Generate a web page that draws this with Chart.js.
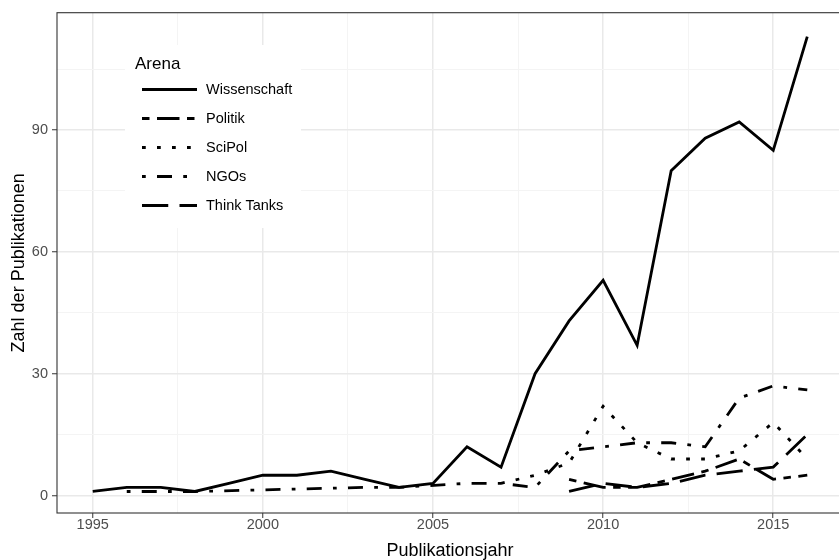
<!DOCTYPE html>
<html>
<head>
<meta charset="utf-8">
<script src="https://cdn.jsdelivr.net/npm/chart.js@4.4.0/dist/chart.umd.min.js"></script>
<style>
  html, body { margin: 0; padding: 0; background: #fff; overflow: hidden; }
  #wrap { width: 839px; height: 560px; overflow: hidden; }
</style>
</head>
<body>
<div id="wrap"><canvas id="chart" width="845" height="560"></canvas></div>
<script>
// Daten
var years = [1995, 1996, 1997, 1998, 1999, 2000, 2001, 2002, 2003, 2004, 2005,
             2006, 2007, 2008, 2009, 2010, 2011, 2012, 2013, 2014, 2015, 2016];
var wissenschaft = [1, 2, 2, 1, 3, 5, 5, 6, 4, 2, 3, 12, 7, 30, 43, 53, 37, 80, 88, 92, 85, 113];
var politik = [null, null, null, null, null, null, null, null, null, null, null,
               null, null, null, 4, 2, 2, 4, 6, 9, 4, 5];
var scipol = [null, null, null, null, null, null, null, null, null, null, null,
              null, 3, 5, 8, 22, 13, 9, 9, 11, 18, 9];
var ngos = [null, 1, 1, 1, null, null, null, null, 2, 2, null,
            3, 3, 2, 11, 12, 13, 13, 12, 24, 27, 26];
var thinkTanks = [null, null, null, null, null, null, null, null, null, null, null,
                  null, null, null, 1, 3, 2, 3, 5, 6, 7, 15];

var seriesNames = ['Wissenschaft', 'Politik', 'SciPol', 'NGOs', 'Think Tanks'];
var seriesValues = [wissenschaft, politik, scipol, ngos, thinkTanks];

var xTicks = [1995, 2000, 2005, 2010, 2015];
var yTicks = [0, 30, 60, 90];

// Linientypen wie in ggplot (solid, twodash, dotted, dotdash, longdash)
var u = 3.75;
var dashes = [
    [],
    [2 * u, 2 * u, 6 * u, 2 * u],
    [1 * u, 3 * u],
    [1 * u, 3 * u, 4 * u, 3 * u],
    [7 * u, 3 * u]
];
var lineW = 2.8;

function toPoints(vals) {
    var pts = [];
    for (var i = 0; i < years.length; i++) {
        if (vals[i] !== null) pts.push({ x: years[i], y: vals[i] });
    }
    return pts;
}

// Nebengitterlinien in der Mitte zwischen den Hauptticks
function withMinor(major, lo, hi) {
    var step = major[1] - major[0];
    var out = [];
    for (var v = major[0] - step / 2; v <= hi; v += step / 2) {
        if (v >= lo) out.push(v);
    }
    return out;
}

var xMin = 1995 - 0.05 * 21, xMax = 2016 + 0.05 * 21;
var yMin = -4.3, yMax = 118.9;

var tickFont = { family: 'Liberation Sans, Arial, sans-serif', size: 14.5 };
var titleFont = { family: 'Liberation Sans, Arial, sans-serif', size: 18, lineHeight: 1 };

function gridColor(list) {
    return function (c) { return list.indexOf(c.tick.value) >= 0 ? '#e9e9e9' : '#f4f4f4'; };
}
function gridWidth(list) {
    return function (c) { return list.indexOf(c.tick.value) >= 0 ? 1.5 : 1; };
}
function tickCol(list) {
    return function (c) { return list.indexOf(c.tick.value) >= 0 ? '#333333' : 'rgba(0,0,0,0)'; };
}

var panelFrame = {
    id: 'panelFrame',
    afterDatasetsDraw: function (chart) {
        var a = chart.chartArea, ctx = chart.ctx;
        ctx.save();
        ctx.strokeStyle = '#333333';
        ctx.lineWidth = 1.1;
        ctx.strokeRect(a.left, a.top, a.right - a.left, a.bottom - a.top);
        ctx.restore();
    }
};

// Legende innerhalb des Panels
var arenaLegend = {
    id: 'arenaLegend',
    afterDraw: function (chart) {
        var ctx = chart.ctx;
        ctx.save();
        ctx.fillStyle = '#ffffff';
        ctx.fillRect(125, 45, 176, 183);
        ctx.fillStyle = '#000000';
        ctx.textBaseline = 'middle';
        ctx.textAlign = 'left';
        ctx.font = '17px "Liberation Sans", Arial, sans-serif';
        ctx.fillText('Arena', 135, 64);
        ctx.font = '14.5px "Liberation Sans", Arial, sans-serif';
        for (var i = 0; i < seriesNames.length; i++) {
            var y = 89.5 + i * 29;
            ctx.beginPath();
            ctx.setLineDash(dashes[i]);
            ctx.lineWidth = lineW;
            ctx.lineCap = 'butt';
            ctx.strokeStyle = '#000000';
            ctx.moveTo(142, y);
            ctx.lineTo(197, y);
            ctx.stroke();
            ctx.setLineDash([]);
            ctx.fillText(seriesNames[i], 206, y);
        }
        ctx.restore();
    }
};

var datasets = seriesNames.map(function (name, i) {
    return {
        label: name,
        data: toPoints(seriesValues[i]),
        borderColor: '#000000',
        borderWidth: lineW,
        borderDash: dashes[i],
        borderCapStyle: 'butt',
        pointRadius: 0,
        tension: 0,
        spanGaps: true,
        fill: false
    };
});

var xGrid = withMinor(xTicks, xMin, xMax);
var yGrid = withMinor(yTicks, yMin, yMax);

new Chart(document.getElementById('chart'), {
    type: 'line',
    data: { datasets: datasets },
    options: {
        responsive: false,
        animation: false,
        layout: { padding: { top: 11, right: 2, left: 0, bottom: 0 } },
        plugins: { legend: { display: false }, tooltip: { enabled: false } },
        scales: {
            x: {
                type: 'linear',
                min: xMin,
                max: xMax,
                afterFit: function (s) { s.height = 47; },
                afterBuildTicks: function (s) { s.ticks = xGrid.map(function (v) { return { value: v }; }); },
                ticks: {
                    autoSkip: false,
                    maxRotation: 0,
                    padding: -2,
                    color: '#4d4d4d',
                    font: tickFont,
                    callback: function (v) { return xTicks.indexOf(v) >= 0 ? String(v) : ''; }
                },
                grid: {
                    color: gridColor(xTicks),
                    lineWidth: gridWidth(xTicks),
                    tickLength: 5,
                    tickColor: tickCol(xTicks),
                    tickWidth: 1
                },
                border: { display: false },
                title: { display: true, text: 'Publikationsjahr', color: '#000000', font: titleFont, padding: { top: 0, bottom: 0 } }
            },
            y: {
                type: 'linear',
                min: yMin,
                max: yMax,
                afterFit: function (s) { s.width = 57; },
                afterBuildTicks: function (s) { s.ticks = yGrid.map(function (v) { return { value: v }; }); },
                ticks: {
                    autoSkip: false,
                    padding: 4,
                    color: '#4d4d4d',
                    font: tickFont,
                    callback: function (v) { return yTicks.indexOf(v) >= 0 ? String(v) : ''; }
                },
                grid: {
                    color: gridColor(yTicks),
                    lineWidth: gridWidth(yTicks),
                    tickLength: 5,
                    tickColor: tickCol(yTicks),
                    tickWidth: 1
                },
                border: { display: false },
                title: { display: true, text: 'Zahl der Publikationen', color: '#000000', font: titleFont, padding: { top: 10, bottom: 0 } }
            }
        }
    },
    plugins: [panelFrame, arenaLegend]
});
</script>
</body>
</html>
